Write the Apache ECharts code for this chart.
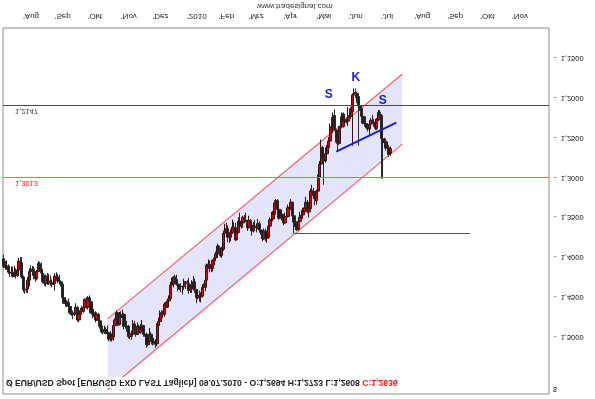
<!DOCTYPE html>
<html>
<head>
<meta charset="utf-8">
<script src="https://cdn.jsdelivr.net/npm/echarts@6/dist/echarts.min.js"></script>
<style>
  html, body { margin: 0; padding: 0; background: #fff; }
  /* the reference is the original chart mirrored top-to-bottom */
  #chart { width: 595px; height: 399px; transform: scaleY(-1); }
</style>
</head>
<body>
<div id="chart"></div>
<script>
// EUR/USD daily, 15.07.2009 - 09.07.2010
const openPrices = [
  1.402,1.412,1.413,1.411,1.419,1.420,1.419,1.424,1.419,1.423,
  1.416,1.405,1.407,1.425,1.441,1.441,1.440,1.429,1.418,1.418,
  1.415,1.423,1.427,1.418,1.408,1.415,1.420,1.431,1.433,1.424,
  1.433,1.430,1.432,1.434,1.433,1.424,1.425,1.430,1.431,1.434,
  1.451,1.458,1.456,1.457,1.462,1.470,1.472,1.472,1.470,1.463,
  1.479,1.472,1.467,1.468,1.463,1.453,1.463,1.451,1.456,1.470,
  1.472,1.470,1.479,1.472,1.480,1.487,1.494,1.494,1.491,1.496,
  1.495,1.503,1.503,1.500,1.486,1.479,1.470,1.485,1.472,1.476,
  1.472,1.487,1.487,1.487,1.500,1.496,1.497,1.484,1.490,1.497,
  1.487,1.495,1.490,1.486,1.497,1.497,1.510,1.506,1.497,1.502,
  1.509,1.506,1.509,1.486,1.481,1.470,1.471,1.472,1.459,1.463,
  1.455,1.452,1.435,1.434,1.425,1.428,1.434,1.440,1.437,1.437,
  1.437,1.431,1.432,1.433,1.442,1.436,1.440,1.431,1.441,1.451,
  1.448,1.450,1.449,1.438,1.438,1.429,1.410,1.409,1.414,1.414,
  1.404,1.401,1.396,1.386,1.393,1.398,1.390,1.370,1.367,1.364,
  1.375,1.375,1.369,1.362,1.363,1.378,1.369,1.355,1.361,1.357,
  1.350,1.354,1.354,1.363,1.354,1.360,1.367,1.361,1.362,1.363,
  1.358,1.366,1.369,1.377,1.367,1.376,1.375,1.361,1.353,1.352,
  1.346,1.332,1.329,1.340,1.351,1.346,1.351,1.357,1.349,1.349,
  1.338,1.337,1.331,1.348,1.356,1.362,1.365,1.355,1.350,1.347,
  1.343,1.338,1.331,1.343,1.339,1.317,1.317,1.323,1.329,1.317,
  1.300,1.283,1.262,1.276,1.279,1.270,1.262,1.254,1.236,1.238,
  1.222,1.240,1.252,1.257,1.236,1.236,1.220,1.230,1.227,1.229,
  1.222,1.223,1.217,1.196,1.193,1.194,1.198,1.210,1.213,1.223,
  1.232,1.232,1.237,1.239,1.233,1.228,1.230,1.232,1.238,1.227,
  1.218,1.222,1.251,1.256,1.254,1.263,1.262,1.2694
]
const highPrices = [
  1.414,1.416,1.416,1.421,1.425,1.424,1.426,1.425,1.427,1.425,
  1.419,1.416,1.427,1.444,1.446,1.445,1.445,1.437,1.421,1.422,
  1.428,1.431,1.429,1.419,1.418,1.422,1.433,1.436,1.437,1.435,
  1.435,1.436,1.438,1.435,1.442,1.429,1.433,1.434,1.437,1.453,
  1.459,1.462,1.463,1.464,1.472,1.474,1.478,1.474,1.471,1.481,
  1.482,1.475,1.470,1.470,1.466,1.465,1.466,1.459,1.471,1.477,
  1.475,1.482,1.480,1.481,1.490,1.496,1.497,1.496,1.497,1.499,
  1.506,1.506,1.506,1.505,1.491,1.481,1.487,1.486,1.479,1.478,
  1.491,1.490,1.494,1.502,1.503,1.504,1.500,1.495,1.500,1.498,
  1.497,1.496,1.494,1.500,1.500,1.514,1.512,1.508,1.506,1.511,
  1.510,1.514,1.512,1.488,1.484,1.477,1.477,1.475,1.466,1.464,
  1.460,1.454,1.440,1.438,1.430,1.436,1.443,1.441,1.444,1.447,
  1.441,1.440,1.436,1.446,1.445,1.445,1.442,1.445,1.458,1.453,
  1.456,1.457,1.451,1.442,1.443,1.432,1.415,1.419,1.419,1.418,
  1.410,1.405,1.401,1.396,1.400,1.401,1.392,1.374,1.371,1.381,
  1.382,1.380,1.371,1.366,1.380,1.379,1.370,1.364,1.364,1.363,
  1.357,1.356,1.367,1.364,1.363,1.373,1.369,1.366,1.369,1.365,
  1.367,1.372,1.380,1.378,1.380,1.382,1.377,1.363,1.356,1.355,
  1.351,1.346,1.344,1.353,1.352,1.354,1.360,1.358,1.353,1.350,
  1.342,1.341,1.350,1.370,1.366,1.367,1.367,1.358,1.352,1.352,
  1.347,1.340,1.345,1.350,1.342,1.325,1.327,1.335,1.334,1.320,
  1.302,1.285,1.282,1.309,1.281,1.274,1.266,1.256,1.240,1.244,
  1.241,1.256,1.267,1.259,1.240,1.238,1.237,1.236,1.232,1.235,
  1.228,1.226,1.260,1.199,1.200,1.206,1.260,1.216,1.232,1.233,
  1.236,1.238,1.242,1.246,1.236,1.233,1.236,1.240,1.240,1.229,
  1.228,1.3013,1.3013,1.259,1.266,1.266,1.274,1.2723
]
const lowPrices = [
  1.397,1.405,1.404,1.409,1.414,1.412,1.412,1.411,1.414,1.410,
  1.401,1.400,1.400,1.423,1.437,1.434,1.425,1.414,1.410,1.411,
  1.412,1.418,1.416,1.405,1.406,1.407,1.419,1.422,1.422,1.420,
  1.421,1.423,1.428,1.424,1.420,1.419,1.421,1.422,1.429,1.433,
  1.448,1.451,1.454,1.452,1.458,1.466,1.467,1.466,1.458,1.462,
  1.472,1.464,1.461,1.459,1.452,1.450,1.449,1.448,1.454,1.468,
  1.465,1.468,1.470,1.470,1.476,1.485,1.486,1.486,1.488,1.486,
  1.494,1.493,1.496,1.484,1.477,1.467,1.469,1.469,1.468,1.466,
  1.470,1.479,1.480,1.485,1.491,1.492,1.479,1.480,1.486,1.482,
  1.485,1.484,1.479,1.485,1.491,1.495,1.500,1.489,1.494,1.500,
  1.502,1.503,1.483,1.476,1.467,1.467,1.467,1.457,1.456,1.452,
  1.448,1.431,1.426,1.424,1.422,1.422,1.432,1.435,1.433,1.436,
  1.427,1.431,1.429,1.426,1.434,1.429,1.424,1.427,1.440,1.440,
  1.442,1.444,1.434,1.433,1.427,1.408,1.403,1.404,1.410,1.403,
  1.399,1.393,1.383,1.385,1.388,1.387,1.367,1.358,1.357,1.360,
  1.370,1.365,1.353,1.356,1.357,1.366,1.350,1.344,1.351,1.348,
  1.347,1.344,1.353,1.348,1.352,1.358,1.356,1.353,1.358,1.352,
  1.355,1.360,1.366,1.364,1.364,1.370,1.359,1.350,1.343,1.342,
  1.329,1.327,1.327,1.337,1.341,1.340,1.349,1.344,1.343,1.334,
  1.333,1.327,1.330,1.347,1.352,1.355,1.350,1.343,1.341,1.338,
  1.334,1.324,1.328,1.336,1.314,1.309,1.313,1.320,1.315,1.296,
  1.279,1.252,1.260,1.275,1.262,1.259,1.249,1.232,1.224,1.218,
  1.214,1.232,1.246,1.235,1.223,1.218,1.218,1.220,1.224,1.211,
  1.213,1.211,1.194,1.188,1.188,1.192,1.195,1.204,1.211,1.219,
  1.225,1.223,1.233,1.230,1.225,1.221,1.226,1.226,1.225,1.215,
  1.215,1.220,1.248,1.250,1.251,1.255,1.259,1.2608
]
const closePrices = [
  1.412,1.413,1.411,1.419,1.420,1.419,1.424,1.419,1.423,1.416,
  1.405,1.407,1.425,1.441,1.441,1.440,1.429,1.418,1.418,1.415,
  1.423,1.427,1.418,1.408,1.415,1.420,1.431,1.433,1.424,1.433,
  1.430,1.432,1.434,1.433,1.424,1.425,1.430,1.431,1.434,1.451,
  1.458,1.456,1.457,1.462,1.470,1.472,1.472,1.470,1.463,1.479,
  1.472,1.467,1.468,1.463,1.453,1.463,1.451,1.456,1.470,1.472,
  1.470,1.479,1.472,1.480,1.487,1.494,1.494,1.491,1.496,1.495,
  1.503,1.503,1.500,1.486,1.479,1.470,1.485,1.472,1.476,1.472,
  1.487,1.487,1.487,1.500,1.496,1.497,1.484,1.490,1.497,1.487,
  1.495,1.490,1.486,1.497,1.497,1.510,1.506,1.497,1.502,1.509,
  1.506,1.509,1.486,1.481,1.470,1.471,1.472,1.459,1.463,1.455,
  1.452,1.435,1.434,1.425,1.428,1.434,1.440,1.437,1.437,1.437,
  1.431,1.432,1.433,1.442,1.436,1.440,1.431,1.441,1.451,1.448,
  1.450,1.449,1.438,1.438,1.429,1.410,1.409,1.414,1.414,1.404,
  1.401,1.396,1.386,1.393,1.398,1.390,1.370,1.367,1.364,1.375,
  1.375,1.369,1.362,1.363,1.378,1.369,1.355,1.361,1.357,1.350,
  1.354,1.354,1.363,1.354,1.360,1.367,1.361,1.362,1.363,1.358,
  1.366,1.369,1.377,1.367,1.376,1.375,1.361,1.353,1.352,1.346,
  1.332,1.329,1.340,1.351,1.346,1.351,1.357,1.349,1.349,1.338,
  1.337,1.331,1.348,1.356,1.362,1.365,1.355,1.350,1.347,1.343,
  1.338,1.331,1.343,1.339,1.317,1.317,1.323,1.329,1.317,1.300,
  1.283,1.262,1.276,1.279,1.270,1.262,1.254,1.236,1.238,1.222,
  1.240,1.252,1.257,1.236,1.236,1.220,1.230,1.227,1.229,1.222,
  1.223,1.217,1.196,1.193,1.194,1.198,1.210,1.213,1.223,1.232,
  1.232,1.237,1.239,1.233,1.228,1.230,1.232,1.238,1.227,1.218,
  1.222,1.251,1.256,1.254,1.263,1.262,1.271,1.2636
]

// horizontal levels
const blackLevel = 1.2147
const redLevel = 1.3013
const supportLevel = 1.3700
const supportFrom = 193
const supportTo = 310

// trend channel (day index, price at both ends of each edge)
const channelIdx = [69, 265]
const channelEdgeA = [1.4776, 1.1697]
const channelEdgeB = [1.5667, 1.2579]

// neckline and head-and-shoulders letters
const necklineIdx = [221, 261]
const necklinePrice = [1.2674, 1.2310]
const patternIdx = [216, 234, 252]
const patternPrice = [1.1955, 1.1748, 1.2037]
const patternText = ['S', 'K', 'S']

const monthNames = ['', 'Feb', 'Mrz', 'Apr', 'Mai', 'Jun', 'Jul', 'Aug', 'Sep', 'Okt', 'Nov', 'Dez']

// trading days (Mon-Fri) from 15.07.2009, running on past the data to early Dec 2010
const dates = []
const day = new Date(Date.UTC(2009, 6, 15))
while (dates.length < 363) {
  const wd = day.getUTCDay()
  if (wd !== 0 && wd !== 6) {
    const dd = String(day.getUTCDate()).padStart(2, '0')
    const mm = String(day.getUTCMonth() + 1).padStart(2, '0')
    dates.push(dd + '.' + mm + '.' + day.getUTCFullYear())
  }
  day.setUTCDate(day.getUTCDate() + 1)
}

const fmt = v => v.toFixed(4).replace('.', ',')
// month start, but no label that would run past the right border
const isMonthStart = i => i > 0 && i < dates.length - 12 && dates[i].slice(3, 5) !== dates[i - 1].slice(3, 5)
const monthLabel = s => {
  const m = Number(s.slice(3, 5))
  return m === 1 ? s.slice(6) : monthNames[m - 1]
}

const candles = openPrices.map((o, i) => [o, closePrices[i], lowPrices[i], highPrices[i]])
const last = openPrices.length - 1

const FONT = 'Liberation Sans'

const chart = echarts.init(document.getElementById('chart'), null, { renderer: 'canvas' })

chart.setOption({
  animation: false,
  backgroundColor: '#fff',
  title: {
    text: '{a|Ø EUR/USD Spot [EURUSD FXD LAST Täglich] ' + dates[last] +
      ' - O:' + fmt(openPrices[last]) + ' H:' + fmt(highPrices[last]) +
      ' L:' + fmt(lowPrices[last]) + ' }{c|C:' + fmt(closePrices[last]) + '}',
    left: 4,
    top: 10,
    padding: [1, 3, 1, 2],
    backgroundColor: '#fff',
    textStyle: {
      rich: {
        a: { color: '#222', fontSize: 8.6, fontFamily: FONT, lineHeight: 11 },
        c: { color: '#e81818', fontSize: 8.6, fontFamily: FONT, lineHeight: 11 }
      }
    }
  },
  graphic: [
    { type: 'text', left: 553, top: 7, style: { text: '$', fill: '#222', font: '7px ' + FONT } },
    { type: 'text', left: 257, top: 389, style: { text: 'www.tradesignal.com', fill: '#333', font: '8px ' + FONT } }
  ],
  grid: {
    left: 3, right: 46, top: 5, bottom: 28,
    show: true, borderColor: '#8c8c8c', borderWidth: 1, backgroundColor: '#fff'
  },
  xAxis: {
    type: 'category',
    data: dates,
    boundaryGap: true,
    axisLine: { show: false },
    axisTick: { show: false },
    splitLine: { show: false },
    axisLabel: {
      interval: i => isMonthStart(i),
      formatter: v => "'" + monthLabel(v),
      align: 'left',
      margin: 8,
      color: '#222',
      fontSize: 8,
      fontFamily: FONT
    }
  },
  yAxis: {
    type: 'value',
    position: 'right',
    min: 1.1119,
    max: 1.5721,
    splitNumber: 9,
    axisLine: { show: false },
    axisTick: { show: false },
    splitLine: { show: false },
    axisLabel: {
      showMinLabel: false,
      showMaxLabel: false,
      margin: 5,
      color: '#222',
      fontSize: 7.5,
      fontFamily: FONT,
      formatter: v => {
        const onStep = Math.abs(v * 20 - Math.round(v * 20)) < 1e-6
        return onStep && v > 1.149 && v < 1.501 ? '-  ' + fmt(v) : ''
      }
    }
  },
  series: [
    {
      type: 'custom',
      name: 'channel',
      silent: true,
      clip: true,
      z: 1,
      data: [[channelIdx[0], channelEdgeA[0]]],
      encode: { x: 0, y: 1 },
      renderItem: (params, api) => {
        const a0 = api.coord([channelIdx[0], channelEdgeA[0]])
        const a1 = api.coord([channelIdx[1], channelEdgeA[1]])
        const b0 = api.coord([channelIdx[0], channelEdgeB[0]])
        const b1 = api.coord([channelIdx[1], channelEdgeB[1]])
        const edge = { stroke: '#f06262', lineWidth: 1.2 }
        return {
          type: 'group',
          children: [
            { type: 'polygon', shape: { points: [a0, a1, b1, b0] }, style: { fill: '#e4e4fa' } },
            { type: 'line', shape: { x1: a0[0], y1: a0[1], x2: a1[0], y2: a1[1] }, style: edge },
            { type: 'line', shape: { x1: b0[0], y1: b0[1], x2: b1[0], y2: b1[1] }, style: edge }
          ]
        }
      }
    },
    {
      type: 'candlestick',
      name: 'EUR/USD',
      z: 3,
      data: candles,
      barWidth: 2.7,
      itemStyle: {
        color: '#1c1c1c',
        color0: '#d80000',
        borderColor: '#2a2a2a',
        borderColor0: '#3a1010',
        borderWidth: 1
      },
      markLine: {
        silent: true,
        symbol: ['none', 'none'],
        animation: false,
        data: [
          {
            yAxis: blackLevel,
            lineStyle: { color: '#4a4a4a', width: 1, type: 'solid' },
            label: {
              position: 'insideStartTop', distance: [12, 1], formatter: fmt(blackLevel),
              color: '#333', fontSize: 7.5, fontFamily: FONT
            }
          },
          {
            yAxis: redLevel,
            lineStyle: { color: '#f06464', width: 1, type: 'solid' },
            label: {
              position: 'insideStartTop', distance: [12, 1], formatter: fmt(redLevel),
              color: '#e82020', fontSize: 7.5, fontFamily: FONT
            }
          },
          [
            { coord: [dates[supportFrom], supportLevel], lineStyle: { color: '#555', width: 1, type: 'solid' }, label: { show: false } },
            { coord: [dates[supportTo], supportLevel] }
          ],
          [
            { coord: [dates[necklineIdx[0]], necklinePrice[0]], lineStyle: { color: '#1a1ae6', width: 2, type: 'solid' }, label: { show: false } },
            { coord: [dates[necklineIdx[1]], necklinePrice[1]] }
          ]
        ]
      }
    },
    {
      type: 'custom',
      name: 'pattern',
      silent: true,
      z: 5,
      data: patternIdx.map((x, i) => [x, patternPrice[i]]),
      encode: { x: 0, y: 1 },
      renderItem: (params, api) => {
        const p = api.coord([api.value(0), api.value(1)])
        return {
          type: 'text',
          x: p[0],
          y: p[1],
          scaleY: -1,  // keep the letters upright after the page flip
          style: {
            text: patternText[params.dataIndex],
            fill: '#1818e8',
            font: 'bold 12px ' + FONT,
            align: 'center',
            verticalAlign: 'middle'
          }
        }
      }
    }
  ]
})
</script>
</body>
</html>
